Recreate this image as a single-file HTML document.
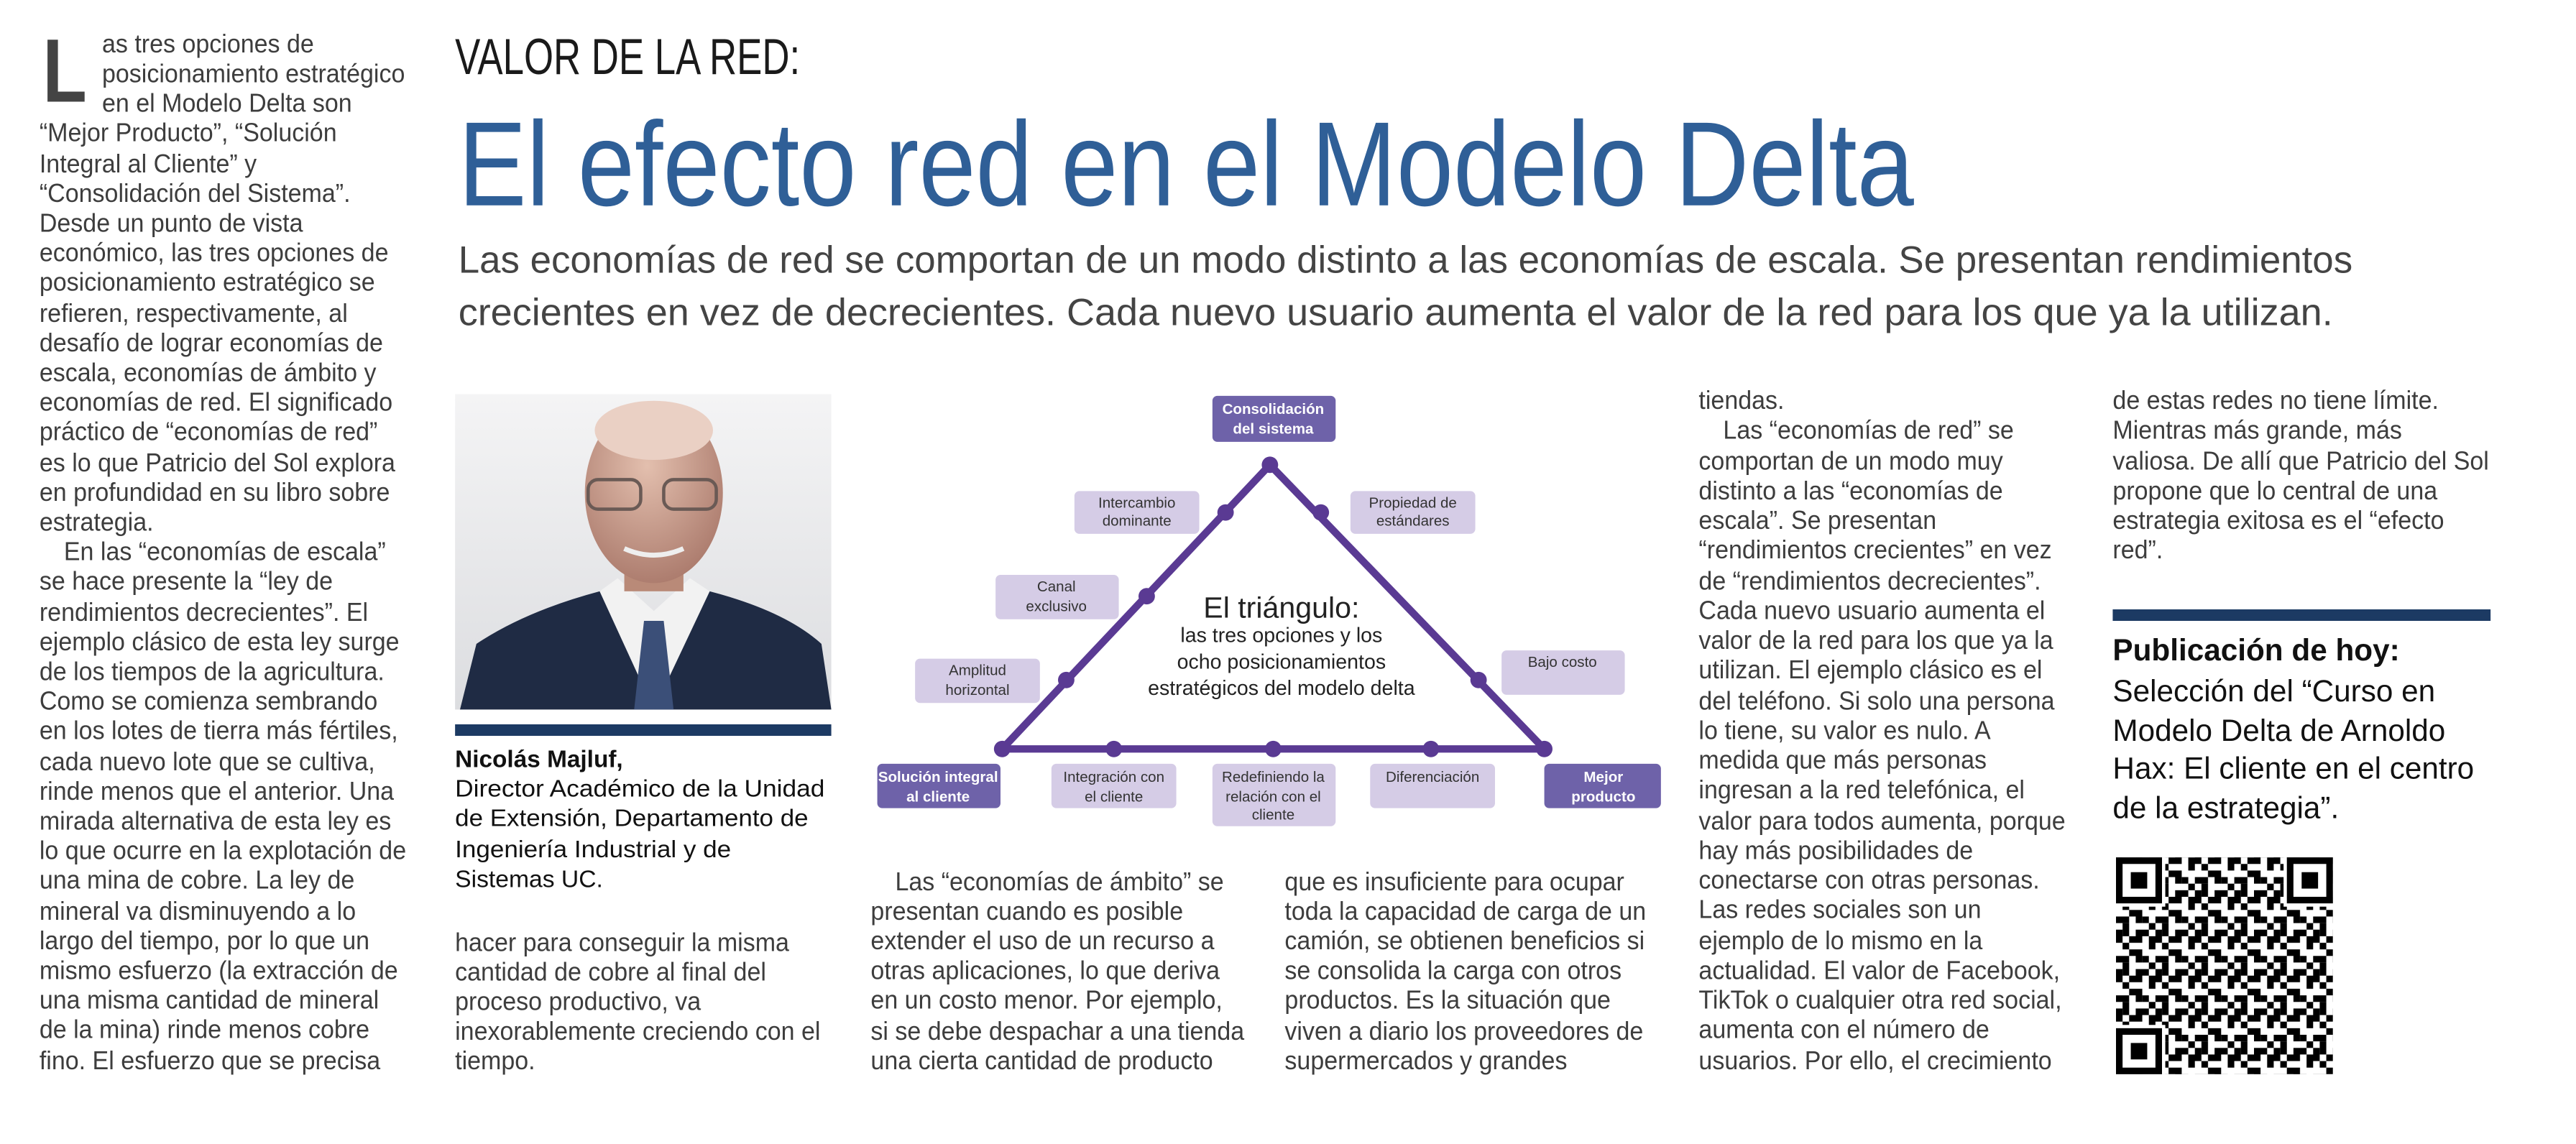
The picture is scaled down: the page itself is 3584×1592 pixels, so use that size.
<!DOCTYPE html>
<html><head><meta charset="utf-8"><style>
html,body{margin:0;padding:0;background:#fff;}
svg{display:block;}
.b{font-family:"Liberation Sans Narrow","Liberation Sans",sans-serif;font-size:16px;fill:#3d3d3d;}
.c{font-family:"Liberation Sans",sans-serif;font-size:14.6px;fill:#111;}
.bx{font-family:"Liberation Sans Narrow","Liberation Sans",sans-serif;font-size:9px;fill:#333;text-anchor:middle;}
.bxw{font-family:"Liberation Sans Narrow","Liberation Sans",sans-serif;font-size:9px;fill:#fff;font-weight:bold;text-anchor:middle;}
.p{font-family:"Liberation Sans",sans-serif;font-size:18.5px;fill:#111;}
</style></head><body>
<svg width="3584" height="1592" viewBox="0 0 1568 696.5" xmlns="http://www.w3.org/2000/svg">
<rect width="1568" height="697" fill="#fff"/>
<!-- drop cap -->
<text x="0" y="0" transform="translate(26,62) scale(0.8,1)" font-family="Liberation Sans, sans-serif" font-size="55" font-weight="bold" fill="#444">L</text>
<g class="b" transform="translate(24,0) scale(0.93,1) translate(-24,0)">
<text x="65" y="32">as tres opciones de</text>
<text x="65" y="50">posicionamiento estratégico</text>
<text x="65" y="68">en el Modelo Delta son</text>
<text x="24" y="86">“Mejor Producto”, “Solución</text>
<text x="24" y="105">Integral al Cliente” y</text>
<text x="24" y="123">“Consolidación del Sistema”.</text>
<text x="24" y="141">Desde un punto de vista</text>
<text x="24" y="159">económico, las tres opciones de</text>
<text x="24" y="177">posicionamiento estratégico se</text>
<text x="24" y="196">refieren, respectivamente, al</text>
<text x="24" y="214">desafío de lograr economías de</text>
<text x="24" y="232">escala, economías de ámbito y</text>
<text x="24" y="250">economías de red. El significado</text>
<text x="24" y="268">práctico de “economías de red”</text>
<text x="24" y="287">es lo que Patricio del Sol explora</text>
<text x="24" y="305">en profundidad en su libro sobre</text>
<text x="24" y="323">estrategia.</text>
<text x="40" y="341">En las “economías de escala”</text>
<text x="24" y="359">se hace presente la “ley de</text>
<text x="24" y="378">rendimientos decrecientes”. El</text>
<text x="24" y="396">ejemplo clásico de esta ley surge</text>
<text x="24" y="414">de los tiempos de la agricultura.</text>
<text x="24" y="432">Como se comienza sembrando</text>
<text x="24" y="450">en los lotes de tierra más fértiles,</text>
<text x="24" y="469">cada nuevo lote que se cultiva,</text>
<text x="24" y="487">rinde menos que el anterior. Una</text>
<text x="24" y="505">mirada alternativa de esta ley es</text>
<text x="24" y="523">lo que ocurre en la explotación de</text>
<text x="24" y="541">una mina de cobre. La ley de</text>
<text x="24" y="560">mineral va disminuyendo a lo</text>
<text x="24" y="578">largo del tiempo, por lo que un</text>
<text x="24" y="596">mismo esfuerzo (la extracción de</text>
<text x="24" y="614">una misma cantidad de mineral</text>
<text x="24" y="632">de la mina) rinde menos cobre</text>
<text x="24" y="651">fino. El esfuerzo que se precisa</text>
</g>
<!-- header -->
<text x="277" y="45" font-family="Liberation Sans Narrow, Liberation Sans, sans-serif" font-size="31" fill="#1a1a1a" textLength="210" lengthAdjust="spacingAndGlyphs">VALOR DE LA RED:</text>
<text x="279" y="125" font-family="Liberation Sans, sans-serif" font-size="73" fill="#2f5f97" textLength="886" lengthAdjust="spacingAndGlyphs">El efecto red en el Modelo Delta</text>
<text x="279" y="166" font-family="Liberation Sans, sans-serif" font-size="23" fill="#444" textLength="1153" lengthAdjust="spacingAndGlyphs">Las economías de red se comportan de un modo distinto a las economías de escala. Se presentan rendimientos</text>
<text x="279" y="198" font-family="Liberation Sans, sans-serif" font-size="23" fill="#444" textLength="1141" lengthAdjust="spacingAndGlyphs">crecientes en vez de decrecientes. Cada nuevo usuario aumenta el valor de la red para los que ya la utilizan.</text>
<!-- photo -->
<defs><linearGradient id="bg" x1="0" y1="0" x2="0" y2="1"><stop offset="0" stop-color="#f4f4f5"/><stop offset="1" stop-color="#dcdde0"/></linearGradient>
<radialGradient id="sk" cx="0.45" cy="0.35" r="0.7"><stop offset="0" stop-color="#e3bfae"/><stop offset="1" stop-color="#a9786a"/></radialGradient>
<pattern id="qr" width="24" height="24" patternUnits="userSpaceOnUse">
<rect x="0" y="0" width="4" height="4"/><rect x="8" y="0" width="8" height="4"/><rect x="20" y="0" width="4" height="8"/><rect x="4" y="4" width="4" height="4"/><rect x="12" y="8" width="4" height="8"/><rect x="0" y="12" width="8" height="4"/><rect x="16" y="12" width="4" height="4"/><rect x="4" y="16" width="4" height="8"/><rect x="12" y="20" width="8" height="4"/><rect x="20" y="16" width="4" height="4"/><rect x="8" y="8" width="4" height="4"/><rect x="0" y="20" width="4" height="4"/></pattern></defs>
<rect x="277" y="240" width="229" height="192" fill="url(#bg)"/>
<path d="M280 432 L290 392 Q320 372 365 360 L398 388 L432 360 Q478 372 500 392 L506 432 Z" fill="#1f2b44"/>
<path d="M365 360 L398 432 L432 360 L420 352 L398 372 L376 352 Z" fill="#f2f2f2"/>
<path d="M392 378 L404 378 L410 432 L386 432 Z" fill="#3b4f78"/>
<rect x="380" y="330" width="36" height="30" fill="#b98a78"/>
<ellipse cx="398" cy="300" rx="42" ry="55" fill="url(#sk)"/>
<ellipse cx="398" cy="262" rx="36" ry="18" fill="#ead0c4"/>
<rect x="358" y="292" width="32" height="18" rx="6" fill="none" stroke="#6a5a55" stroke-width="2"/>
<rect x="404" y="292" width="32" height="18" rx="6" fill="none" stroke="#6a5a55" stroke-width="2"/>
<path d="M380 334 Q398 342 416 334" stroke="#eee" stroke-width="3" fill="none"/>
<rect x="277" y="441" width="229" height="7" fill="#1c3a63"/>
<g class="c">
<text x="277" y="467" font-weight="bold">Nicolás Majluf,</text>
<text x="277" y="485" textLength="225" lengthAdjust="spacingAndGlyphs">Director Académico de la Unidad</text>
<text x="277" y="503" textLength="215" lengthAdjust="spacingAndGlyphs">de Extensión, Departamento de</text>
<text x="277" y="522" textLength="168" lengthAdjust="spacingAndGlyphs">Ingeniería Industrial y de</text>
<text x="277" y="540" textLength="90" lengthAdjust="spacingAndGlyphs">Sistemas UC.</text>
</g>
<g class="b" transform="translate(277,0) scale(0.93,1) translate(-277,0)">
<text x="277" y="579">hacer para conseguir la misma</text>
<text x="277" y="597">cantidad de cobre al final del</text>
<text x="277" y="615">proceso productivo, va</text>
<text x="277" y="633">inexorablemente creciendo con el</text>
<text x="277" y="651">tiempo.</text>
</g>
<g class="b" transform="translate(530,0) scale(0.93,1) translate(-530,0)">
<text x="546" y="542">Las “economías de ámbito” se</text>
<text x="530" y="560">presentan cuando es posible</text>
<text x="530" y="578">extender el uso de un recurso a</text>
<text x="530" y="596">otras aplicaciones, lo que deriva</text>
<text x="530" y="614">en un costo menor. Por ejemplo,</text>
<text x="530" y="633">si se debe despachar a una tienda</text>
<text x="530" y="651">una cierta cantidad de producto</text>
</g>
<g class="b" transform="translate(782,0) scale(0.93,1) translate(-782,0)">
<text x="782" y="542">que es insuficiente para ocupar</text>
<text x="782" y="560">toda la capacidad de carga de un</text>
<text x="782" y="578">camión, se obtienen beneficios si</text>
<text x="782" y="596">se consolida la carga con otros</text>
<text x="782" y="614">productos. Es la situación que</text>
<text x="782" y="633">viven a diario los proveedores de</text>
<text x="782" y="651">supermercados y grandes</text>
</g>
<g class="b" transform="translate(1034,0) scale(0.93,1) translate(-1034,0)">
<text x="1034" y="249">tiendas.</text>
<text x="1050" y="267">Las “economías de red” se</text>
<text x="1034" y="286">comportan de un modo muy</text>
<text x="1034" y="304">distinto a las “economías de</text>
<text x="1034" y="322">escala”. Se presentan</text>
<text x="1034" y="340">“rendimientos crecientes” en vez</text>
<text x="1034" y="359">de “rendimientos decrecientes”.</text>
<text x="1034" y="377">Cada nuevo usuario aumenta el</text>
<text x="1034" y="395">valor de la red para los que ya la</text>
<text x="1034" y="413">utilizan. El ejemplo clásico es el</text>
<text x="1034" y="432">del teléfono. Si solo una persona</text>
<text x="1034" y="450">lo tiene, su valor es nulo. A</text>
<text x="1034" y="468">medida que más personas</text>
<text x="1034" y="486">ingresan a la red telefónica, el</text>
<text x="1034" y="505">valor para todos aumenta, porque</text>
<text x="1034" y="523">hay más posibilidades de</text>
<text x="1034" y="541">conectarse con otras personas.</text>
<text x="1034" y="559">Las redes sociales son un</text>
<text x="1034" y="578">ejemplo de lo mismo en la</text>
<text x="1034" y="596">actualidad. El valor de Facebook,</text>
<text x="1034" y="614">TikTok o cualquier otra red social,</text>
<text x="1034" y="632">aumenta con el número de</text>
<text x="1034" y="651">usuarios. Por ello, el crecimiento</text>
</g>
<g class="b" transform="translate(1286,0) scale(0.93,1) translate(-1286,0)">
<text x="1286" y="249">de estas redes no tiene límite.</text>
<text x="1286" y="267">Mientras más grande, más</text>
<text x="1286" y="286">valiosa. De allí que Patricio del Sol</text>
<text x="1286" y="304">propone que lo central de una</text>
<text x="1286" y="322">estrategia exitosa es el “efecto</text>
<text x="1286" y="340">red”.</text>
</g>
<rect x="1286" y="371" width="230" height="7" fill="#1c3a63"/>
<g class="p">
<text x="1286" y="402" font-weight="bold">Publicación de hoy:</text>
<text x="1286" y="427">Selección del “Curso en</text>
<text x="1286" y="451">Modelo Delta de Arnoldo</text>
<text x="1286" y="474">Hax: El cliente en el centro</text>
<text x="1286" y="498">de la estrategia”.</text>
</g>
<!-- QR -->
<g transform="translate(1288,522)">
<rect width="132" height="132" fill="url(#qr)"/>
<g fill="#fff"><rect width="30" height="30"/><rect x="102" width="30" height="30"/><rect y="102" width="30" height="30"/></g>
<g fill="none" stroke="#000" stroke-width="4"><rect x="2" y="2" width="24" height="24"/><rect x="106" y="2" width="24" height="24"/><rect x="2" y="106" width="24" height="24"/></g>
<rect x="9" y="9" width="10" height="10"/><rect x="113" y="9" width="10" height="10"/><rect x="9" y="113" width="10" height="10"/>
</g>
<!-- diagram -->
<polygon points="773,283 610,456 940,456" fill="none" stroke="#5a3a93" stroke-width="4.5" stroke-linejoin="round"/>
<g fill="#5a3a93">
<circle cx="773" cy="283" r="5"/><circle cx="610" cy="456" r="5"/><circle cx="940" cy="456" r="5"/>
<circle cx="746" cy="312" r="5"/><circle cx="698" cy="363" r="5"/><circle cx="649" cy="414" r="5"/>
<circle cx="804" cy="312" r="5"/><circle cx="900" cy="414" r="5"/>
<circle cx="678" cy="456" r="5"/><circle cx="775" cy="456" r="5"/><circle cx="871" cy="456" r="5"/>
</g>
<g fill="#d5cce6">
<rect x="654" y="299" width="76" height="26" rx="3"/>
<rect x="822" y="299" width="76" height="26" rx="3"/>
<rect x="606" y="350" width="75" height="27" rx="3"/>
<rect x="557" y="401" width="76" height="27" rx="3"/>
<rect x="914" y="396" width="75" height="27" rx="3"/>
<rect x="640" y="465" width="76" height="27" rx="3"/>
<rect x="738" y="465" width="75" height="38" rx="3"/>
<rect x="834" y="465" width="76" height="27" rx="3"/>
</g>
<g fill="#6e62a9">
<rect x="738" y="241" width="75" height="28" rx="3"/>
<rect x="534" y="465" width="75" height="27" rx="3"/>
<rect x="940" y="465" width="71" height="27" rx="3"/>
</g>
<text class="bxw" x="775" y="252">Consolidación</text><text class="bxw" x="775" y="264">del sistema</text>
<text class="bxw" x="571" y="476">Solución integral</text><text class="bxw" x="571" y="488">al cliente</text>
<text class="bxw" x="976" y="476">Mejor</text><text class="bxw" x="976" y="488">producto</text>
<text class="bx" x="692" y="309">Intercambio</text><text class="bx" x="692" y="320">dominante</text>
<text class="bx" x="860" y="309">Propiedad de</text><text class="bx" x="860" y="320">estándares</text>
<text class="bx" x="643" y="360">Canal</text><text class="bx" x="643" y="372">exclusivo</text>
<text class="bx" x="595" y="411">Amplitud</text><text class="bx" x="595" y="423">horizontal</text>
<text class="bx" x="951" y="406">Bajo costo</text>
<text class="bx" x="678" y="476">Integración con</text><text class="bx" x="678" y="488">el cliente</text>
<text class="bx" x="775" y="476">Redefiniendo la</text><text class="bx" x="775" y="488">relación con el</text><text class="bx" x="775" y="499">cliente</text>
<text class="bx" x="872" y="476">Diferenciación</text>
<g font-family="Liberation Sans Narrow, Liberation Sans, sans-serif" fill="#222" text-anchor="middle">
<text x="780" y="376" font-size="18">El triángulo:</text>
<text x="780" y="391" font-size="12.5">las tres opciones y los</text>
<text x="780" y="407" font-size="12.5">ocho posicionamientos</text>
<text x="780" y="423" font-size="12.5">estratégicos del modelo delta</text>
</g>
</svg>
</body></html>
